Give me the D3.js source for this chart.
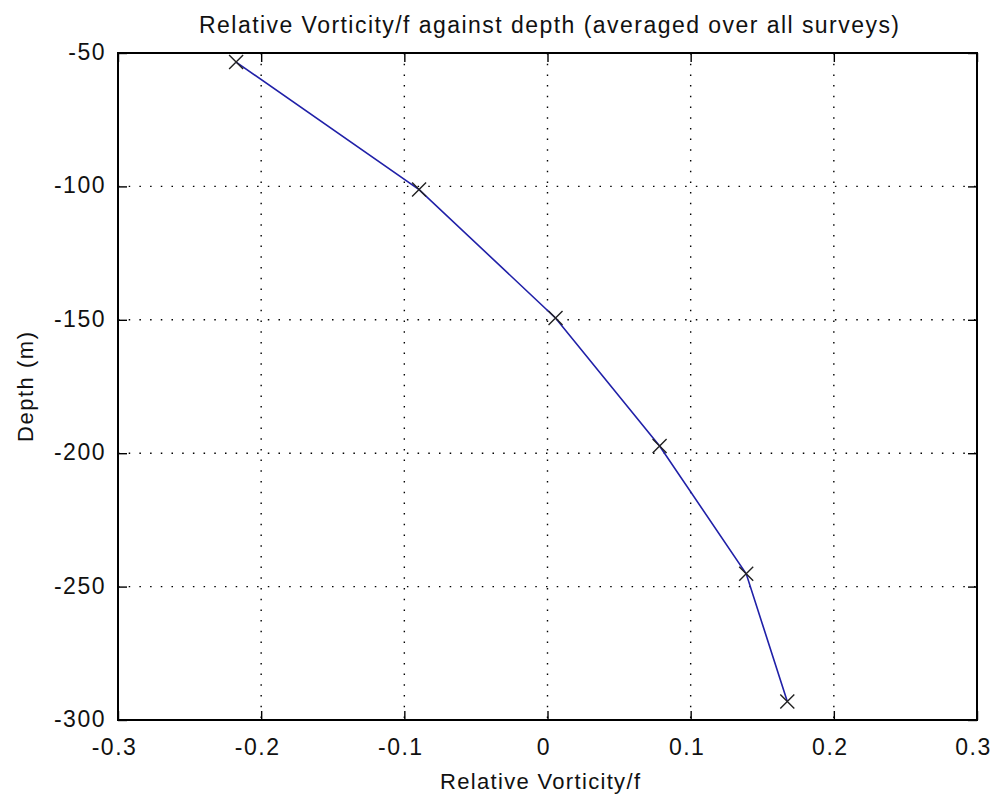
<!DOCTYPE html>
<html>
<head>
<meta charset="utf-8">
<script src="https://cdn.jsdelivr.net/npm/d3@7"></script>
<style>
  body { margin: 0; background: #fff; }
  text { font-family: "Liberation Sans", Arial, sans-serif; }
</style>
</head>
<body>
<div id="chart"></div>
<script>
// 数据：各深度平均相对涡度/f
const vorticity = [-0.2175, -0.0897, 0.0056, 0.0783, 0.1388, 0.1675];
const depth = [-53.4, -101.2, -149.3, -197.3, -245.2, -293.1];
const xTicks = [-0.3, -0.2, -0.1, 0, 0.1, 0.2, 0.3];
const yTicks = [-300, -250, -200, -150, -100, -50];

const W = 999, H = 801;
const margin = { top: 53, right: 22, bottom: 81, left: 118 };
const width = W - margin.left - margin.right;
const height = H - margin.top - margin.bottom;

const svg = d3.select("#chart").append("svg")
    .attr("width", W)
    .attr("height", H);

const g = svg.append("g")
    .attr("transform", `translate(${margin.left},${margin.top})`);

const x = d3.scaleLinear().domain([-0.3, 0.3]).range([0, width]);
const y = d3.scaleLinear().domain([-300, -50]).range([height, 0]);

// 网格线（点线）
g.append("g")
    .selectAll("line")
    .data(xTicks.slice(1, -1))
    .join("line")
    .attr("x1", d => x(d)).attr("x2", d => x(d))
    .attr("y1", 0).attr("y2", height)
    .attr("stroke", "#000")
    .attr("stroke-width", 1.4)
    .attr("stroke-dasharray", "1.5,9.2");

g.append("g")
    .selectAll("line")
    .data(yTicks.slice(1, -1))
    .join("line")
    .attr("y1", d => y(d)).attr("y2", d => y(d))
    .attr("x1", 0).attr("x2", width)
    .attr("stroke", "#000")
    .attr("stroke-width", 1.4)
    .attr("stroke-dasharray", "1.5,9.2");

// 坐标轴（刻度朝内）
const fmtX = d => d === 0 ? "0" : d3.format(".1f")(d).replace("−", "-");
const fmtY = d => String(d);

const xAxis = g.append("g")
    .attr("transform", `translate(0,${height})`)
    .call(d3.axisBottom(x).tickValues(xTicks).tickFormat(fmtX).tickSizeInner(-9).tickSizeOuter(0).tickPadding(19));
const xAxisTop = g.append("g")
    .call(d3.axisTop(x).tickValues(xTicks).tickFormat("").tickSizeInner(-9).tickSizeOuter(0));
const yAxis = g.append("g")
    .call(d3.axisLeft(y).tickValues(yTicks).tickFormat(fmtY).tickSizeInner(-9).tickSizeOuter(0).tickPadding(12));
const yAxisRight = g.append("g")
    .attr("transform", `translate(${width},0)`)
    .call(d3.axisRight(y).tickValues(yTicks).tickFormat("").tickSizeInner(-9).tickSizeOuter(0));

[xAxis, xAxisTop, yAxis, yAxisRight].forEach(a => {
    a.select(".domain").remove();
    a.selectAll("line").attr("stroke", "#000").attr("stroke-width", 1.4);
    a.selectAll("text")
        .attr("fill", "#111")
        .style("font-size", "23px")
        .style("font-family", "\"Liberation Sans\", Arial, sans-serif")
        .style("letter-spacing", "1.5px");
});
yAxis.selectAll("text").attr("dy", "0.28em");
xAxis.selectAll("text").attr("dx", "-4");

// 外框
g.append("rect")
    .attr("width", width)
    .attr("height", height)
    .attr("fill", "none")
    .attr("stroke", "#000")
    .attr("stroke-width", 2);

// 折线
const pts = vorticity.map((v, i) => [v, depth[i]]);
g.append("path")
    .datum(pts)
    .attr("fill", "none")
    .attr("stroke", "#2020a8")
    .attr("stroke-width", 1.6)
    .attr("d", d3.line().x(d => x(d[0])).y(d => y(d[1])));

// x 标记
const s = 7;
g.append("g")
    .selectAll("path")
    .data(pts)
    .join("path")
    .attr("d", d => {
        const px = x(d[0]), py = y(d[1]);
        return `M${px - s},${py - s}L${px + s},${py + s}M${px - s},${py + s}L${px + s},${py - s}`;
    })
    .attr("stroke", "#222")
    .attr("stroke-width", 1.4)
    .attr("fill", "none");

// 标题与轴标签
svg.append("text")
    .attr("x", 549)
    .attr("y", 33)
    .attr("text-anchor", "middle")
    .attr("textLength", 700)
    .attr("lengthAdjust", "spacing")
    .attr("fill", "#111")
    .style("font-size", "23px")
    .text("Relative Vorticity/f against depth (averaged over all surveys)");

svg.append("text")
    .attr("x", 540)
    .attr("y", 789)
    .attr("text-anchor", "middle")
    .attr("textLength", 200)
    .attr("lengthAdjust", "spacing")
    .attr("fill", "#111")
    .style("font-size", "22px")
    .text("Relative Vorticity/f");

svg.append("text")
    .attr("transform", `translate(33,387) rotate(-90)`)
    .attr("text-anchor", "middle")
    .attr("textLength", 110)
    .attr("lengthAdjust", "spacing")
    .attr("fill", "#111")
    .style("font-size", "22px")
    .text("Depth  (m)");
</script>
</body>
</html>
